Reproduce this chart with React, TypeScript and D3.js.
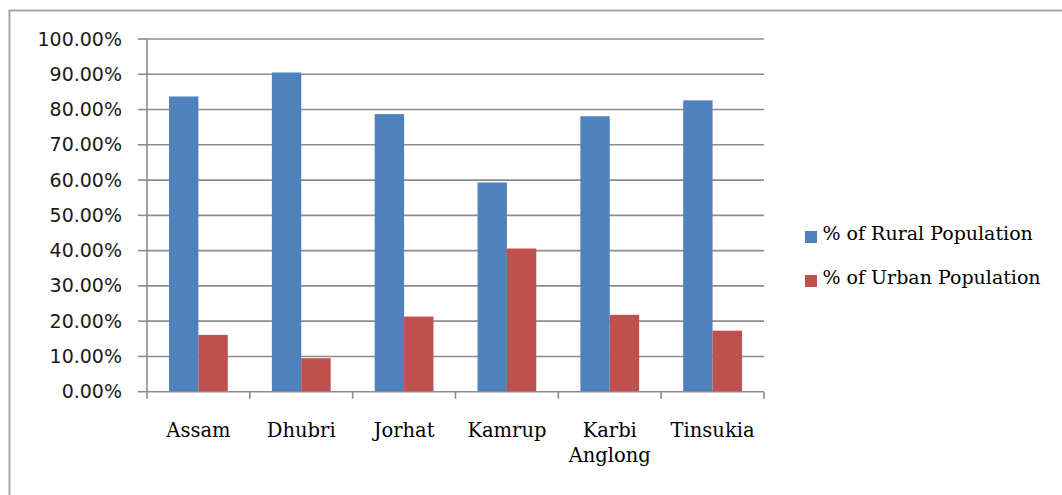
import React from "react";
import * as d3 from "d3";

const categories: string[][] = [["Assam"], ["Dhubri"], ["Jorhat"], ["Kamrup"], ["Karbi", "Anglong"], ["Tinsukia"]];
const seriesNames = ["% of Rural Population", "% of Urban Population"];
const ruralValues = [0.837, 0.905, 0.787, 0.593, 0.781, 0.826];
const urbanValues = [0.161, 0.095, 0.213, 0.406, 0.218, 0.173];
const yTicks = [0, 0.1, 0.2, 0.3, 0.4, 0.5, 0.6, 0.7, 0.8, 0.9, 1.0];
const colors = ["#4F81BD", "#C0504D"];

export default function App() {
  const W = 1062, H = 495;
  const left = 147, right = 764, top = 39, bottom = 391.7;
  const keys = categories.map((c) => c.join(" "));
  const x = d3.scaleBand<string>().domain(keys).range([left, right]).paddingInner(0).paddingOuter(0);
  const xs = d3.scaleBand<string>().domain(seriesNames).range([0, x.bandwidth()]).paddingInner(0).paddingOuter(0.75);
  const y = d3.scaleLinear().domain([0, 1]).range([bottom, top]);
  const fmt = d3.format(".2%");
  const seriesValues = [ruralValues, urbanValues];
  const axisColor = "#8c8c8c";

  return (
    <svg width={W} height={H} style={{ position: "absolute", left: 0, top: 0, background: "#fff" }}>
      <rect x={9.5} y={10.5} width={W + 20} height={H + 20} fill="#fff" stroke="#a6a6a6" strokeWidth={2} />
      {yTicks.map((t) => (
        <g key={t}>
          {t > 0 && <line x1={left} x2={right} y1={y(t)} y2={y(t)} stroke={axisColor} strokeWidth={1.6} />}
          <line x1={left - 9} x2={left} y1={y(t)} y2={y(t)} stroke={axisColor} strokeWidth={1.6} />
          <text x={122} y={y(t) + 6.5} textAnchor="end" fontFamily="DejaVu Sans" fontSize={19} fill="#1a1a1a">
            {fmt(t)}
          </text>
        </g>
      ))}
      {seriesValues.map((vals, si) =>
        vals.map((v, i) => (
          <rect
            key={`${si}-${i}`}
            x={(x(keys[i]) as number) + (xs(seriesNames[si]) as number)}
            y={y(v)}
            width={xs.bandwidth()}
            height={bottom - y(v)}
            fill={colors[si]}
          />
        ))
      )}
      <line x1={left} x2={left} y1={top} y2={bottom} stroke={axisColor} strokeWidth={1.6} />
      <line x1={left} x2={right} y1={bottom} y2={bottom} stroke={axisColor} strokeWidth={1.6} />
      {keys.concat([""]).map((k, i) => {
        const xp = left + i * x.step();
        return <line key={i} x1={xp} x2={xp} y1={bottom} y2={bottom + 7} stroke={axisColor} strokeWidth={1.6} />;
      })}
      {categories.map((lines, i) => (
        <text
          key={keys[i]}
          x={(x(keys[i]) as number) + x.bandwidth() / 2}
          y={436.7}
          textAnchor="middle"
          fontFamily="DejaVu Serif"
          fontSize={19.5}
          fill="#000"
        >
          {lines.map((l, j) => (
            <tspan key={j} x={(x(keys[i]) as number) + x.bandwidth() / 2} dy={j === 0 ? 0 : 25.5}>
              {l}
            </tspan>
          ))}
        </text>
      ))}
      {seriesNames.map((s, si) => (
        <g key={s}>
          <rect x={805} y={231 + si * 44} width={12} height={12} fill={colors[si]} />
          <text x={822.5} y={240 + si * 44} fontFamily="DejaVu Serif" fontSize={19} fill="#000">
            {s}
          </text>
        </g>
      ))}
    </svg>
  );
}
